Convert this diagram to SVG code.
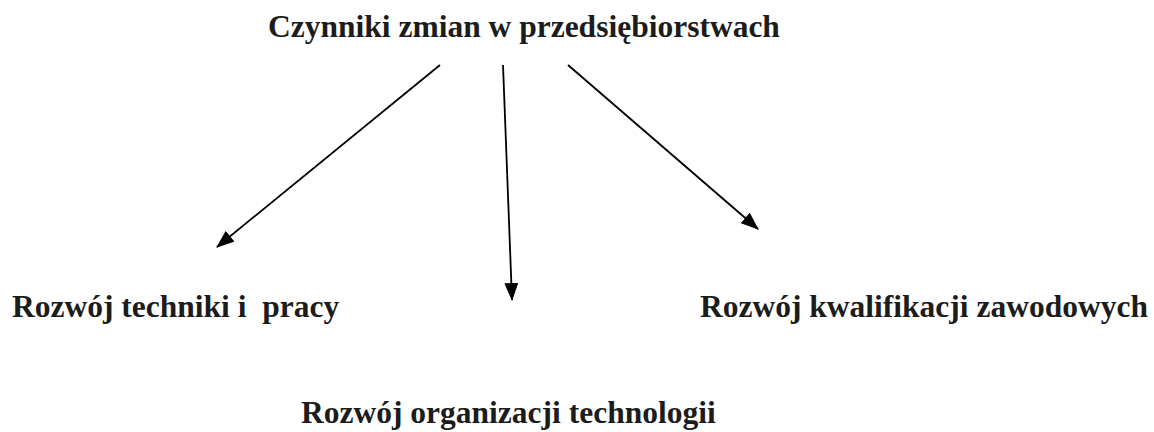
<svg xmlns="http://www.w3.org/2000/svg" width="1154" height="432" viewBox="0 0 1154 432">
  <style>
    .lbl { font-family: 'Liberation Serif', 'DejaVu Serif', serif; font-weight: bold; font-size: 31.5px; fill: #1c1c1c; }
    .conn { stroke: #000; stroke-width: 1.8; fill: none; }
  </style>
  <defs>
    <marker id="arrow" markerUnits="userSpaceOnUse" markerWidth="18" markerHeight="14" viewBox="0 0 18 14" refX="17" refY="7" orient="auto">
      <path d="M0,0 L18,7 L0,14 z" fill="#000"/>
    </marker>
  </defs>
  <rect width="1154" height="432" fill="#fff"/>
  <g id="node-title">
    <text class="lbl" x="268" y="37">Czynniki zmian w przedsiębiorstwach</text>
  </g>
  <g id="node-technika">
    <text class="lbl" x="12" y="317" xml:space="preserve">Rozwój techniki i  pracy</text>
  </g>
  <g id="node-organizacja">
    <text class="lbl" x="301" y="423">Rozwój organizacji technologii</text>
  </g>
  <g id="node-kwalifikacje">
    <text class="lbl" x="700" y="317">Rozwój kwalifikacji zawodowych</text>
  </g>
  <g id="connectors">
    <line class="conn" x1="440" y1="65" x2="217" y2="247" marker-end="url(#arrow)"/>
    <line class="conn" x1="503" y1="65" x2="512" y2="300" marker-end="url(#arrow)"/>
    <line class="conn" x1="568" y1="65" x2="758" y2="229" marker-end="url(#arrow)"/>
  </g>
</svg>
